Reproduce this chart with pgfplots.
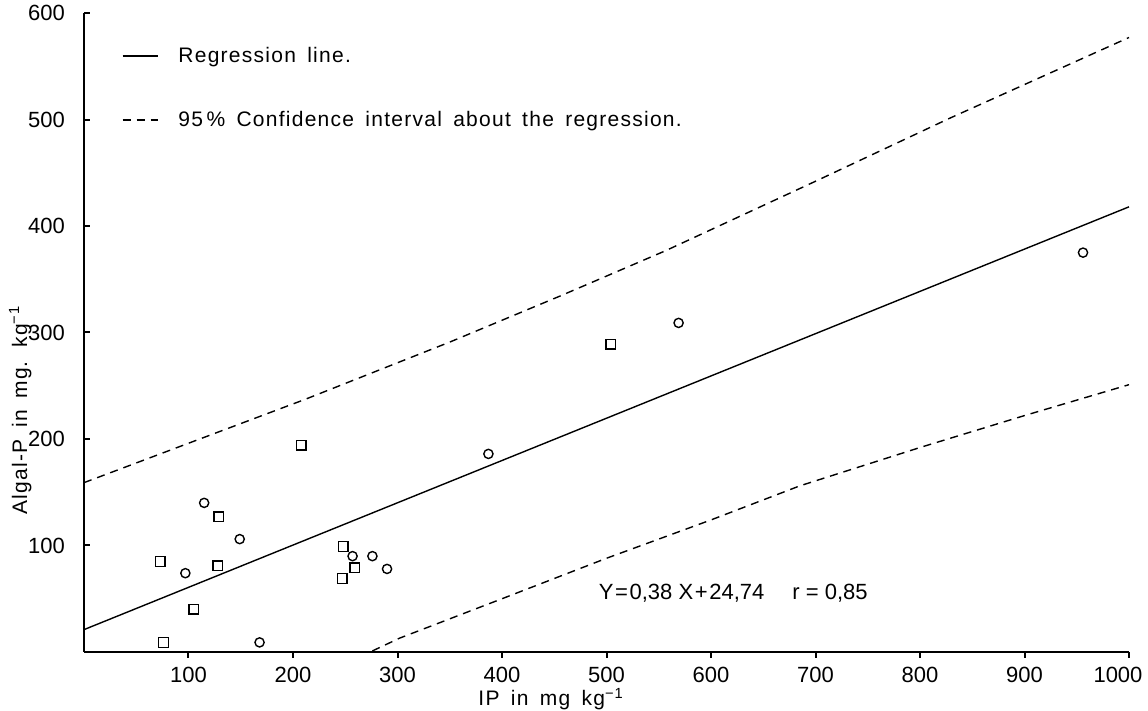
\documentclass[border=0pt]{standalone}
\usepackage{fontspec}
\setmainfont{Liberation Sans}[LetterSpace=6,WordSpace=1.6]
\newfontfamily\tickfont{Liberation Sans}
\usepackage{pgfplots}
\pgfplotsset{compat=1.18}
\begin{document}
\begin{tikzpicture}
\begin{axis}[
  at={(0,0)}, anchor=south west,
  scale only axis, width=522.5pt, height=319.5pt,
  xmin=0, xmax=1000, ymin=0, ymax=600,
  axis lines=left, axis line style={-, line width=1.2pt},
  xtick={100,200,...,900}, ytick={100,200,...,600},
  extra x ticks={1000},
  extra x tick style={xticklabel style={xshift=-5.5pt}},
  tick align=outside, major tick length=3pt,
  tick style={line width=1pt, black},
  ytick style={xshift=3pt},
  xticklabel style={inner sep=0pt, yshift=-4.6pt},
  yticklabel style={xshift=-3pt},
  clip=false,
  /pgf/number format/assume math mode=true,
  /pgf/number format/1000 sep={},
  ticklabel style={font=\tickfont\fontsize{11}{12}\selectfont},
  label style={font=\fontsize{10.5}{12}\selectfont},
  xlabel={IP in mg kg\textsuperscript{−1}},
  ylabel={Algal-P in mg. kg\textsuperscript{−1}},
  xlabel style={at={(axis description cs:0.447,0)}, anchor=base, inner sep=0pt, yshift=-27pt},
  ylabel style={at={(axis description cs:-0.0545,0.379)}, anchor=base, inner sep=0pt},
  legend style={draw=none, fill=none, at={(0.036,0.954)}, anchor=north west,
    inner sep=0pt, row sep=19pt, font=\fontsize{10.5}{12}\selectfont,
    nodes={inner xsep=10pt}},
  legend cell align=left,
  legend image code/.code={\draw[#1] (0pt,0pt) -- (17.5pt,0pt);},
]
\addplot[black, line width=0.7pt, no marks] coordinates {(0,21) (1000,418)};
\addlegendentry{Regression line.}
\addplot[black, line width=0.7pt, no marks, dash pattern=on 4pt off 3pt] coordinates {
(0,159) (100,196) (211,237) (350,291) (455,334) (557,377) (700,442) (828,501) (1000,577)};
\addlegendentry{95\,\% Confidence interval about the regression.}
\addplot[black, line width=0.7pt, no marks, dash pattern=on 4pt off 3pt, forget plot] coordinates {
(276,1) (302,13) (400,50) (500,88) (600,124) (685,156) (800,192) (900,222) (1000,251)};
% squares
\addplot[only marks, mark=square, mark size=2.4pt, line width=0.7pt, black, forget plot] coordinates {
(73,85) (76,9) (105,40) (128,81) (129,127) (208,194) (248,99) (247,69) (259,79) (504,289)};
% circles
\addplot[only marks, mark=o, mark size=2.3pt, line width=0.7pt, black, forget plot] coordinates {
(97,74) (115,140) (149,106) (168,9) (257,90) (276,90) (290,78) (387,186) (569,309) (956,375)};
\node[anchor=west, font=\tickfont\fontsize{11}{12}\selectfont] at (axis cs:486,55) {Y\hspace{0.8pt}=\hspace{0.8pt}0,38 X\hspace{0.8pt}+\hspace{0.8pt}24,74\quad\ r = 0,85};
\end{axis}
\pgfresetboundingbox
\path[use as bounding box] (-42pt,-29.5pt) rectangle (532pt,326pt);
\end{tikzpicture}
\end{document}
